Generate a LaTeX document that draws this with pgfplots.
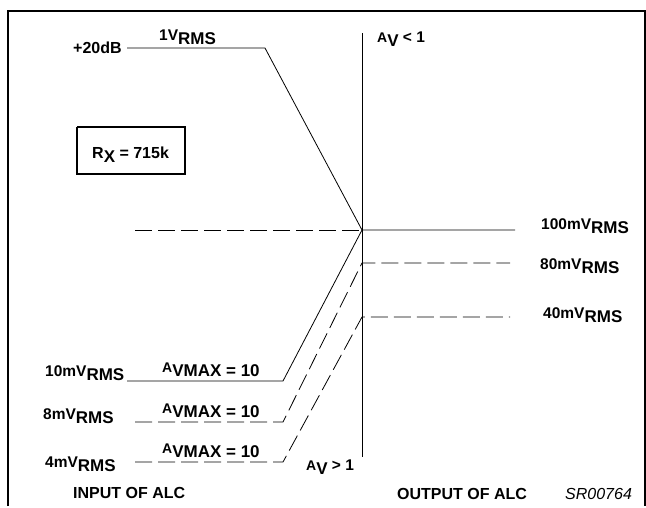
\documentclass[border=0pt]{standalone}
\usepackage{pgfplots}
\pgfplotsset{compat=1.18}
\usepackage{fontspec}
\setmainfont{Liberation Sans}
\newcommand\lo[1]{\raisebox{-4pt}{\fontsize{17}{17}\selectfont #1}}
\newcommand\bg{\fontsize{16}{16}\selectfont}
\newcommand\sm{\fontsize{15.5}{15.5}\selectfont}
\newcommand\sa{\fontsize{14}{14}\selectfont}
\tikzset{lbl/.style={font=\bfseries\bg, inner sep=0pt, anchor=base west}}
\begin{document}
\begin{tikzpicture}
\begin{axis}[
  scale only axis, width=646pt, height=506pt,
  xmin=0, xmax=646, ymin=0, ymax=506, y dir=reverse,
  hide axis, clip=false,
]
% frame
\addplot[draw=none] coordinates {(0,0) (646,506)};
\addplot[black, line width=2pt] coordinates {(8,506) (8,11) (645,11) (645,506)};
% centre line
\addplot[black, line width=0.8pt] coordinates {(362,33) (362,457)};
% solid lines
\addplot[black, line width=0.8pt] coordinates {(127,48) (265,48) (362,230) (515,230)};
\addplot[black, line width=0.8pt] coordinates {(127,381) (283,381) (362,230)};
% dashed lines
\addplot[black, line width=0.8pt, dash pattern=on 17pt off 6pt] coordinates {(135,230) (362,230)};
\addplot[black, line width=0.8pt, dash pattern=on 17pt off 6pt] coordinates {(135,422) (283,422) (362,263) (510,263)};
\addplot[black, line width=0.8pt, dash pattern=on 17pt off 6pt] coordinates {(135,462) (283,462) (362,317) (510,317)};
% R_X box
\addplot[black, line width=1.5pt] coordinates {(77,127) (185,127) (185,174) (77,174) (77,127)};

\node[lbl] at (axis cs:73,53) {+20dB};
\node[lbl] at (axis cs:159,40) {\sm 1V\lo{RMS}};
\node[lbl] at (axis cs:377,42) {\sa A\lo{V}\sm{} < 1};
\node[lbl] at (axis cs:92,158) {\bg R\lo{X}\bg{} = 715k};
\node[lbl] at (axis cs:541,229) {\sm 100mV\lo{RMS}};
\node[lbl] at (axis cs:540,269) {\sm 80mV\lo{RMS}};
\node[lbl] at (axis cs:543,318) {\sm 40mV\lo{RMS}};
\node[lbl] at (axis cs:45,376) {\sm 10mV\lo{RMS}};
\node[lbl] at (axis cs:43,419) {\sm 8mV\lo{RMS}};
\node[lbl] at (axis cs:45,467) {\sm 4mV\lo{RMS}};
\node[lbl] at (axis cs:162,372) {\sa A\lo{VMAX = 10}};
\node[lbl] at (axis cs:162,413) {\sa A\lo{VMAX = 10}};
\node[lbl] at (axis cs:162,453) {\sa A\lo{VMAX = 10}};
\node[lbl] at (axis cs:306,470) {\sa A\lo{V}\sm{} > 1};
\node[lbl] at (axis cs:73,498) {INPUT OF ALC};
\node[lbl] at (axis cs:397,499) {OUTPUT OF ALC};
\node[lbl, font=\itshape\bg] at (axis cs:565,499) {SR00764};
\end{axis}
\end{tikzpicture}
\end{document}
